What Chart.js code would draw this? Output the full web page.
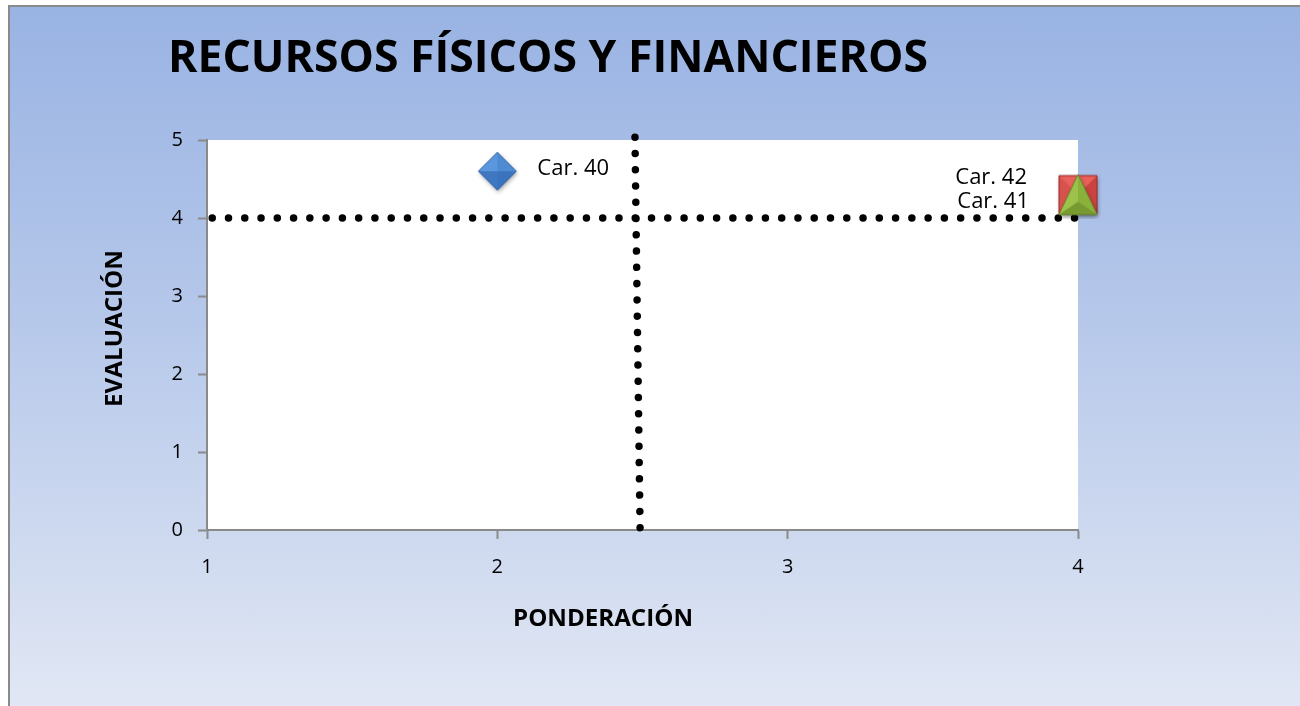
<!DOCTYPE html>
<html lang="es">
<head>
<meta charset="UTF-8">
<title>Recursos físicos y financieros</title>
<script src="https://cdn.jsdelivr.net/npm/chart.js@4.4.0/dist/chart.umd.min.js"></script>
<style>
  html, body { margin: 0; padding: 0; width: 1300px; height: 706px; overflow: hidden; background: #fff; }
  .marco {
    position: absolute; left: 8px; top: 5px; right: 0; bottom: 0;
    border-left: 2px solid #8a8a8a; border-top: 2px solid #8a8a8a;
    background: linear-gradient(to bottom, #99b3e3 0%, #b6c8ea 45%, #e1e7f4 100%);
  }
  #grafico { position: absolute; left: 0; top: 0; }
</style>
</head>
<body>
<div class="marco"></div>
<canvas id="grafico" width="1300" height="706"></canvas>
<script>
// ====== datos ======
const nombres = ['Car. 40', 'Car. 41', 'Car. 42'];
const ponderacion = [2, 4, 4];
const evaluacion = [4.6, 4.3, 4.3];
const ticksX = [1, 2, 3, 4];
const ticksY = [0, 1, 2, 3, 4, 5];

// líneas punteadas de referencia (cuadrantes)
const lineaHx = [1.018, 4.044];
const lineaHy = [4, 4];
const lineaVx = [2.4916, 2.474];
const lineaVy = [0.03, 5.042];

const titulo = 'RECURSOS FÍSICOS Y FINANCIEROS';
const tituloX = 'PONDERACIÓN';
const tituloY = 'EVALUACIÓN';

// ====== marcadores con relieve (estilo Excel) ======
function marcador(tipo, colores, borde) {
  const cv = document.createElement('canvas');
  cv.width = 48; cv.height = 48;
  const g = cv.getContext('2d');
  const cx = 24, cy = 24;
  let pts;
  if (tipo === 'diamante') {
    pts = [[cx, cy - 19], [cx + 19, cy], [cx, cy + 19], [cx - 19, cy]];
  } else if (tipo === 'cuadro') {
    pts = [[cx - 19, cy - 19], [cx + 19, cy - 19], [cx + 19, cy + 19], [cx - 19, cy + 19]];
  } else {
    pts = [[cx, cy - 20], [cx + 19, cy + 20], [cx - 19, cy + 20]];
  }
  const trazar = () => {
    g.beginPath();
    pts.forEach((p, i) => i ? g.lineTo(p[0], p[1]) : g.moveTo(p[0], p[1]));
    g.closePath();
  };
  // sombra
  g.save();
  g.shadowColor = 'rgba(0,0,0,0.35)';
  g.shadowBlur = 4; g.shadowOffsetX = 1; g.shadowOffsetY = 2;
  trazar(); g.fillStyle = colores[0]; g.fill();
  g.restore();
  // caras
  const centro = tipo === 'triangulo' ? [cx, cy + 7] : [cx, cy];
  for (let i = 0; i < pts.length; i++) {
    const a = pts[i], b = pts[(i + 1) % pts.length];
    g.beginPath();
    g.moveTo(centro[0], centro[1]); g.lineTo(a[0], a[1]); g.lineTo(b[0], b[1]);
    g.closePath();
    g.fillStyle = colores[i];
    g.fill();
  }
  trazar();
  g.strokeStyle = borde; g.lineWidth = 1;
  g.stroke();
  return cv;
}

const mDiamante = marcador('diamante', ['#4f8bd3', '#3b74bd', '#3f78c1', '#5b97de'], '#2f62a5');
const mCuadro = marcador('cuadro', ['#e8615b', '#c9443f', '#b5322e', '#d8524d'], '#99282a');
const mTriangulo = marcador('triangulo', ['#8ab23b', '#779a31', '#9cc24b'], '#6a8a2a');

// ====== plugins ======
const fondoBlanco = {
  id: 'fondoBlanco',
  beforeDraw(chart) {
    const { ctx, chartArea: a } = chart;
    ctx.save();
    ctx.fillStyle = '#ffffff';
    ctx.fillRect(a.left, a.top, a.right - a.left, a.bottom - a.top);
    ctx.restore();
  }
};

function textoAjustado(ctx, txt, x, y, ancho, fuente, rot) {
  ctx.save();
  ctx.font = fuente;
  const w = ctx.measureText(txt).width;
  ctx.translate(x, y);
  if (rot) ctx.rotate(rot);
  ctx.scale(ancho / w, 1);
  ctx.fillStyle = '#000';
  ctx.textAlign = 'center';
  ctx.textBaseline = 'alphabetic';
  ctx.fillText(txt, 0, 0);
  ctx.restore();
}

const textos = {
  id: 'textos',
  afterDatasetsDraw(chart) {
    const ctx = chart.ctx;
    // etiquetas de cada punto
    const etiquetas = [
      { ds: 0, dx: 40, dy: 4, align: 'left' },
      { ds: 1, dx: -49, dy: 13.5, align: 'right' },
      { ds: 2, dx: -51, dy: -11, align: 'right' }
    ];
    etiquetas.forEach(e => {
      const p = chart.getDatasetMeta(e.ds).data[0];
      ctx.save();
      ctx.font = '22px "Open Sans"';
      ctx.fillStyle = '#000';
      ctx.textAlign = e.align;
      ctx.textBaseline = 'alphabetic';
      ctx.fillText(nombres[e.ds], p.x + e.dx, p.y + e.dy);
      ctx.restore();
    });
  },
  afterDraw(chart) {
    const ctx = chart.ctx;
    textoAjustado(ctx, titulo, 548, 72, 760, 'bold 45px "Open Sans"');
    textoAjustado(ctx, tituloX, 603, 626, 180, 'bold 23px "Open Sans"');
    textoAjustado(ctx, tituloY, 122, 328.5, 157, 'bold 23px "Open Sans"', -Math.PI / 2);
  }
};

// ====== gráfico ======
const ejeComun = {
  type: 'linear',
  grid: { drawOnChartArea: false, drawTicks: true, tickLength: 9, tickColor: '#8a8a8a', tickWidth: 2 },
  border: { color: '#8a8a8a', width: 2 }
};

new Chart(document.getElementById('grafico'), {
  type: 'scatter',
  data: {
    datasets: [
      {
        label: nombres[0],
        data: [{ x: ponderacion[0], y: evaluacion[0] }],
        pointStyle: mDiamante, pointRadius: 20, clip: false, order: 3
      },
      {
        label: nombres[1],
        data: [{ x: ponderacion[1], y: evaluacion[1] }],
        pointStyle: mCuadro, pointRadius: 20, clip: false, order: 2
      },
      {
        label: nombres[2],
        data: [{ x: ponderacion[2], y: evaluacion[2] }],
        pointStyle: mTriangulo, pointRadius: 20, clip: false, order: 1
      },
      {
        label: 'horizontal',
        data: lineaHx.map((x, i) => ({ x, y: lineaHy[i] })),
        showLine: true, pointRadius: 0, borderColor: '#000', borderWidth: 7.5,
        borderDash: [0.01, 16.26], borderCapStyle: 'round', clip: false, order: 5
      },
      {
        label: 'vertical',
        data: lineaVx.map((x, i) => ({ x, y: lineaVy[i] })),
        showLine: true, pointRadius: 0, borderColor: '#000', borderWidth: 7.5,
        borderDash: [0.01, 16.26], borderCapStyle: 'round', clip: false, order: 4
      }
    ]
  },
  options: {
    responsive: false,
    animation: false,
    events: [],
    layout: { padding: { top: 140, right: 222, left: 0, bottom: 0 } },
    plugins: { legend: { display: false }, tooltip: { enabled: false } },
    scales: {
      x: {
        ...ejeComun,
        min: 1, max: 4,
        afterBuildTicks: s => { s.ticks = ticksX.map(v => ({ value: v })); },
        afterFit: s => { s.height = 176; },
        ticks: { color: '#000', padding: 16, font: { family: 'Open Sans', size: 20 } }
      },
      y: {
        ...ejeComun,
        min: 0, max: 5,
        afterBuildTicks: s => { s.ticks = ticksY.map(v => ({ value: v })); },
        afterFit: s => { s.width = 207; },
        ticks: { color: '#000', padding: 15, font: { family: 'Open Sans', size: 20 } }
      }
    }
  },
  plugins: [fondoBlanco, textos]
});
</script>
</body>
</html>
